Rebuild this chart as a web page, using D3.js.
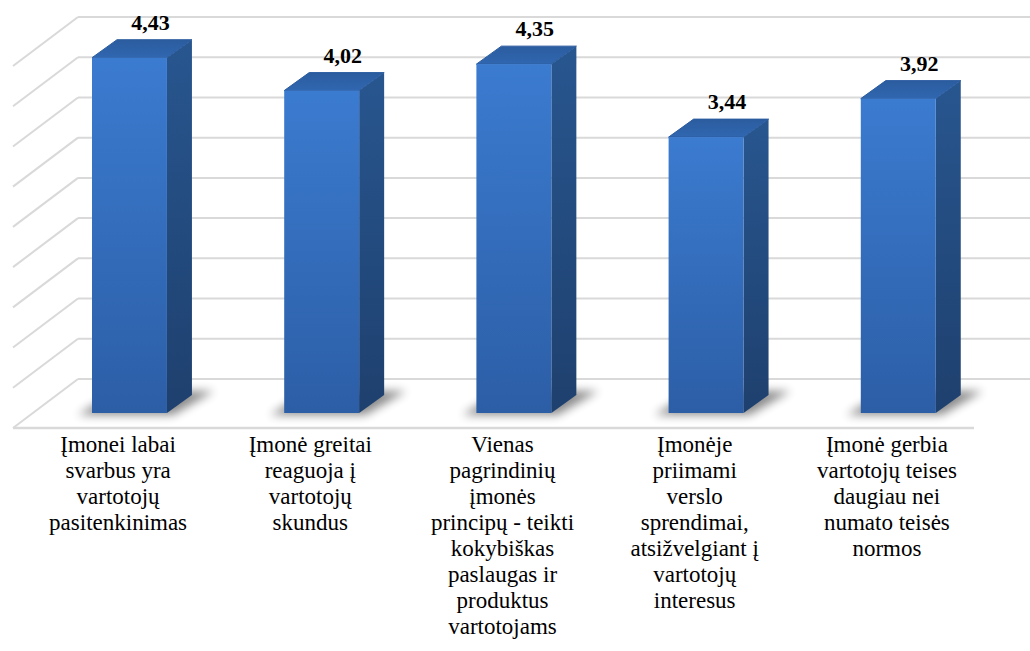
<!DOCTYPE html>
<html>
<head>
<meta charset="utf-8">
<script src="https://cdn.jsdelivr.net/npm/d3@7"></script>
<style>
  html, body { margin: 0; padding: 0; background: #ffffff; font-family: "Liberation Serif", serif; }
  svg { display: block; }
</style>
</head>
<body>
<svg id="chart" width="1030" height="651"></svg>
<script>
// ---- data ----
const categories = ["c1", "c2", "c3", "c4", "c5"];
const values = [4.43, 4.02, 4.35, 3.44, 3.92];
const valueLabels = ["4,43", "4,02", "4,35", "3,44", "3,92"];
const categoryLabels = [
  ["Įmonei labai", "svarbus yra", "vartotojų", "pasitenkinimas"],
  ["Įmonė greitai", "reaguoja į", "vartotojų", "skundus"],
  ["Vienas", "pagrindinių", "įmonės", "principų - teikti", "kokybiškas", "paslaugas ir", "produktus", "vartotojams"],
  ["Įmonėje", "priimami", "verslo", "sprendimai,", "atsižvelgiant į", "vartotojų", "interesus"],
  ["Įmonė gerbia", "vartotojų teises", "daugiau nei", "numato teisės", "normos"]
];
const gridTicks = [0, 0.5, 1, 1.5, 2, 2.5, 3, 3.5, 4, 4.5];

// ---- layout ----
const svg = d3.select("#chart");
const floorFrontY = 428;
const depthDX = 65, depthDY = -49;
const barFrontY = 413;
const barDX = 25, barDY = -18;

const x = d3.scaleBand().domain(categories).range([13, 974]).padding(0);
const bw = x.bandwidth();
const barOffset = 0.411 * bw;
const barW = 0.39 * bw;

const yBar = d3.scaleLinear().domain([0, 4.5]).range([barFrontY, barFrontY - 4.5 * 80.2]);
const yWall = d3.scaleLinear().domain([0, 4.5]).range([floorFrontY + depthDY, 17]);

const defs = svg.append("defs");
const gFront = defs.append("linearGradient").attr("id", "gFront").attr("x1", 0).attr("y1", 0).attr("x2", 0).attr("y2", 1);
gFront.append("stop").attr("offset", "0%").attr("stop-color", "#3b7bd0");
gFront.append("stop").attr("offset", "100%").attr("stop-color", "#2c5ea6");
const gSide = defs.append("linearGradient").attr("id", "gSide").attr("x1", 0).attr("y1", 0).attr("x2", 0).attr("y2", 1);
gSide.append("stop").attr("offset", "0%").attr("stop-color", "#28568f");
gSide.append("stop").attr("offset", "100%").attr("stop-color", "#1e406e");
const gTop = defs.append("linearGradient").attr("id", "gTop").attr("x1", 0).attr("y1", 1).attr("x2", 0).attr("y2", 0);
gTop.append("stop").attr("offset", "0%").attr("stop-color", "#3067b0");
gTop.append("stop").attr("offset", "100%").attr("stop-color", "#2b5c9f");
const blur = defs.append("filter").attr("id", "shadowBlur").attr("x", "-50%").attr("y", "-50%").attr("width", "200%").attr("height", "200%");
blur.append("feGaussianBlur").attr("stdDeviation", 5);

const gridColor = "#d9d9d9";

const grid = svg.append("g");
gridTicks.forEach(t => {
  const yy = yWall(t);
  grid.append("line")
    .attr("x1", 13 + depthDX).attr("x2", 1030)
    .attr("y1", yy).attr("y2", yy)
    .attr("stroke", gridColor).attr("stroke-width", 2);
  grid.append("line")
    .attr("x1", 13 + depthDX).attr("y1", yy)
    .attr("x2", 13).attr("y2", yy - depthDY)
    .attr("stroke", gridColor).attr("stroke-width", 2);
});
grid.append("line")
  .attr("x1", 13).attr("x2", 974)
  .attr("y1", floorFrontY).attr("y2", floorFrontY)
  .attr("stroke", gridColor).attr("stroke-width", 2.5);

const data = categories.map((c, i) => ({ c, v: values[i], label: valueLabels[i], lines: categoryLabels[i] }));
const bars = svg.append("g").selectAll("g").data(data).join("g");

bars.each(function(d) {
  const g = d3.select(this);
  const x0 = x(d.c) + barOffset, x1 = x0 + barW;
  const yb = yBar(0), yt = yBar(d.v);
  const sh = [[x0 - 14, yb + 2], [x1 + 6, yb + 2], [x1 + barDX + 22, yb + barDY - 4], [x0 + barDX, yb + barDY - 4]];
  g.append("polygon").attr("points", sh.map(p => p.join(",")).join(" "))
    .attr("fill", "#000").attr("opacity", 0.45).attr("filter", "url(#shadowBlur)");
  const side = [[x1, yt], [x1 + barDX, yt + barDY], [x1 + barDX, yb + barDY], [x1, yb]];
  g.append("polygon").attr("points", side.map(p => p.join(",")).join(" ")).attr("fill", "url(#gSide)");
  const top = [[x0, yt], [x0 + barDX, yt + barDY], [x1 + barDX, yt + barDY], [x1, yt]];
  g.append("polygon").attr("points", top.map(p => p.join(",")).join(" ")).attr("fill", "url(#gTop)")
    .attr("stroke", "#2b5c9f").attr("stroke-width", 1).attr("stroke-linejoin", "round");
  g.append("rect").attr("x", x0).attr("y", yt).attr("width", barW).attr("height", yb - yt)
    .attr("fill", "url(#gFront)");
});

// value labels
data.forEach(d => {
  svg.append("text")
    .attr("x", x(d.c) + barOffset + barW / 2 + 21)
    .attr("y", yBar(d.v) - 28)
    .attr("text-anchor", "middle")
    .attr("style", "font-family: 'Liberation Serif', serif; font-weight: bold; font-size: 22px;")
    .attr("fill", "#000")
    .text(d.label);
});

// category labels
data.forEach(d => {
  d.lines.forEach((ln, i) => {
    svg.append("text")
      .attr("x", x(d.c) + bw / 2 + 9)
      .attr("y", 452 + i * 26)
      .attr("text-anchor", "middle")
      .attr("style", "font-family: 'Liberation Serif', serif; font-size: 23px;")
      .attr("fill", "#000")
      .text(ln);
  });
});
</script>
</body>
</html>
